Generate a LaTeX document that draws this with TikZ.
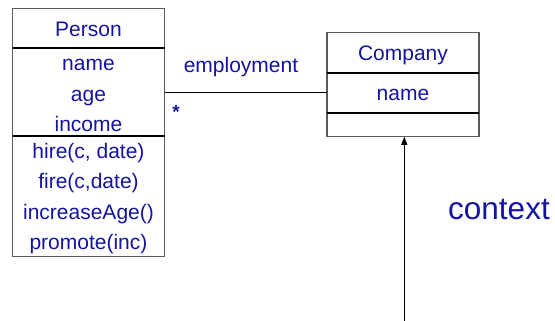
\documentclass[tikz,border=0pt]{standalone}
\usepackage{fontspec}
\setmainfont{Liberation Sans}
\usetikzlibrary{arrows.meta}
\definecolor{txtblue}{RGB}{20,20,160}
\definecolor{boxgray}{RGB}{90,90,90}
\begin{document}
\begin{tikzpicture}[x=1pt,y=-1pt,
  classbox/.style={draw=boxgray,line width=1.3pt,inner sep=0pt,outer sep=0pt,anchor=north west},
  sep/.style={draw=black,line width=1.6pt},
  thinsep/.style={draw=black,line width=1.2pt},
  lbl/.style={text=txtblue,font=\fontsize{21}{25}\selectfont,anchor=base,inner sep=0pt},
  big/.style={text=txtblue,font=\fontsize{31.5}{38}\selectfont,anchor=base west,inner sep=0pt},
  conn/.style={draw=black,line width=0.8pt}]
\useasboundingbox (0,0) rectangle (555,321);
% Person class
\node[classbox,minimum width=152pt,minimum height=248pt] (person) at (12.5,8.3) {};
\draw[sep] (12.5,48) -- (164.5,48);
\draw[thinsep] (12.5,136) -- (164.5,136);
\node[lbl] (pname) at (88.5,36.7) {Person};
\node[lbl] (a1) at (88.5,70.5) {name};
\node[lbl] (a2) at (88.5,101.5) {age};
\node[lbl] (a3) at (88.5,131.7) {income};
\node[lbl] (o1) at (88.5,158.5) {hire(c, date)};
\node[lbl] (o2) at (88.5,188.5) {fire(c,date)};
\node[lbl] (o3) at (88.5,219.5) {increaseAge()};
\node[lbl] (o4) at (88.5,249.5) {promote(inc)};
% Company class
\node[classbox,minimum width=152pt,minimum height=104pt] (company) at (327,32.8) {};
\node[inner sep=0pt,outer sep=0pt,minimum width=152pt,minimum height=40pt,anchor=north west] (crow) at (327,72.8) {};
\draw[sep] (crow.north west) -- (crow.north east);
\draw[sep] (crow.south west) -- (crow.south east);
\node[lbl] (cname) at (403,60.7) {Company};
\node[lbl] (cattr) at (403,101) {name};
% association
\draw[conn] (crow.west -| person.east) -- (crow.west);
\node[lbl] (assoc) at (241,72.3) {employment};
\node[lbl,font=\bfseries\fontsize{19}{23}\selectfont] (mult) at (176,119) {*};
% context arrow
\coordinate (ctx) at (404.3,321);
\draw[conn,-{Triangle[length=8pt,width=6pt]}] (ctx) -- (ctx |- company.south);
\node[big] (context) at (448,219.5) {context};
\end{tikzpicture}
\end{document}
